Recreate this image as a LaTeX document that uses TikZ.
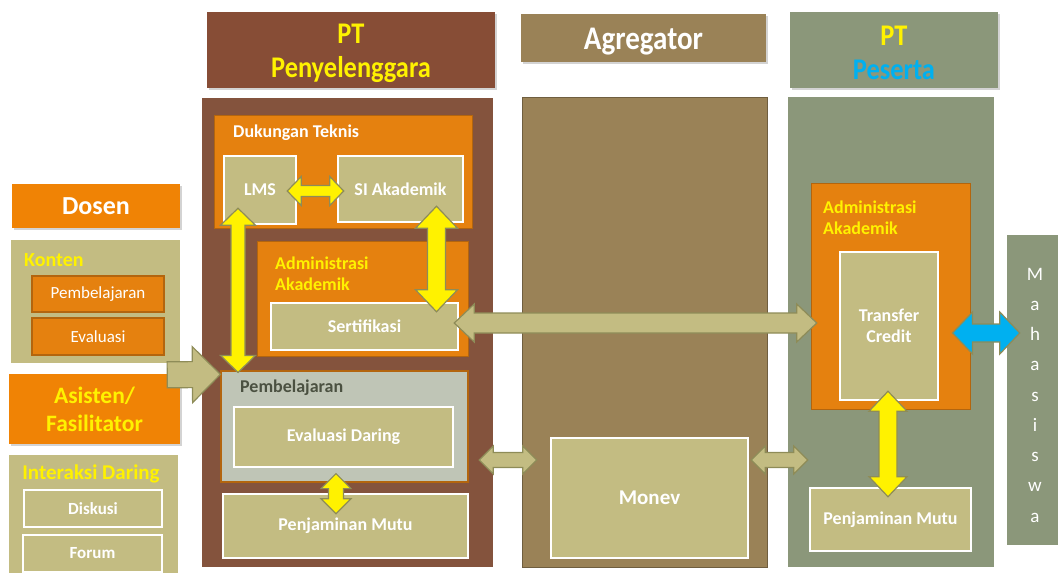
\documentclass[tikz,border=0pt]{standalone}
\usepackage{fontspec}
\setmainfont{Carlito}
\newfontfamily\condfont[FakeStretch=0.88]{Carlito}
\usepackage{tikz}
\usetikzlibrary{calc,shadows}

\definecolor{headbrown}{HTML}{874D36}
\definecolor{ppbrown}{HTML}{84533D}
\definecolor{agbrown}{HTML}{9A8257}
\definecolor{agedge}{HTML}{6F5E3F}
\definecolor{psgreen}{HTML}{8B977A}
\definecolor{boxtan}{HTML}{C3BC82}
\definecolor{boxorange}{HTML}{E5810F}
\definecolor{boxedge}{HTML}{B3650E}
\definecolor{headorange}{HTML}{F08305}
\definecolor{pembgrey}{HTML}{BFC5B6}
\definecolor{arrowedge}{HTML}{8E8C58}
\definecolor{skyblue}{HTML}{00B0F0}
\definecolor{titlegrey}{HTML}{4B5141}

\newcommand\lblfont{\bfseries\fontsize{18}{21}\selectfont}

% block arrows between two points
\newcommand\dblarrow[6][]{%
  \path (#2) coordinate (da1) (#3) coordinate (da2);
  \path ($(da1)!#6!(da2)$) coordinate (da3) ($(da2)!#6!(da1)$) coordinate (da4);
  \draw[blockarrow,#1] (da1) -- ($(da3)!#5!90:(da2)$) -- ($(da3)!#4!90:(da2)$)
    -- ($(da4)!#4!-90:(da1)$) -- ($(da4)!#5!-90:(da1)$) -- (da2)
    -- ($(da4)!#5!90:(da1)$) -- ($(da4)!#4!90:(da1)$)
    -- ($(da3)!#4!-90:(da2)$) -- ($(da3)!#5!-90:(da2)$) -- cycle;
}
\newcommand\onearrow[6][]{%
  \path (#2) coordinate (da1) (#3) coordinate (da2);
  \path ($(da2)!#6!(da1)$) coordinate (da4);
  \draw[blockarrow,#1] ($(da1)!#4!90:(da2)$) -- ($(da4)!#4!-90:(da1)$)
    -- ($(da4)!#5!-90:(da1)$) -- (da2) -- ($(da4)!#5!90:(da1)$)
    -- ($(da4)!#4!90:(da1)$) -- ($(da1)!#4!-90:(da2)$) -- cycle;
}

\tikzset{
  panel/.style={draw=none, inner sep=0pt},
  headbox/.style={inner sep=0pt,
    drop shadow={shadow xshift=2pt, shadow yshift=-2pt, opacity=.35}},
  headtext/.style={inner sep=0pt, align=center, font=\condfont\bfseries\fontsize{30}{33}\selectfont},
  bigorange/.style={fill=headorange, inner sep=0pt,
    drop shadow={shadow xshift=2pt, shadow yshift=-2pt, opacity=.35}},
  orbox/.style={fill=boxorange, draw=boxedge, line width=1pt, inner sep=0pt},
  smallor/.style={fill=boxorange, draw=boxedge, line width=1.5pt, inner sep=0pt,
    text=white, font=\fontsize{17}{20}\selectfont},
  tanbox/.style={fill=boxtan, draw=white, line width=2.5pt, inner sep=0pt,
    text=white, font=\lblfont},
  pembox/.style={fill=pembgrey, draw=boxedge, line width=1.2pt, inner sep=0pt},
  wtitle/.style={inner sep=0pt, text=white, font=\lblfont},
  ytitle/.style={inner sep=0pt, text=yellow, align=left, font=\lblfont},
  blockarrow/.style={draw=arrowedge, line width=1.2pt, line join=miter}
}

\begin{document}
\begin{tikzpicture}[x=1pt, y=-1pt]
    \useasboundingbox (0,0) rectangle (1058,573);

    % headers
    \node[headbox, fill=headbrown, minimum width=288pt, minimum height=76pt] (ppHead) at (351,50) {};
    \node[headtext, text=yellow] (ppHeadT) at ([yshift=-3pt]ppHead.center) {PT\\[1pt]Penyelenggara};
    \node[headbox, fill=agbrown, minimum width=245pt, minimum height=48pt] (agHead) at (643.5,38) {};
    \node[headtext, text=white, font=\condfont\bfseries\fontsize{33}{36}\selectfont] (agHeadT) at ([yshift=-3.5pt]agHead.center) {Agregator};
    \node[headbox, fill=psgreen, minimum width=208pt, minimum height=76pt] (psHead) at (894,50) {};
    \node[headtext, text=yellow] (psHeadT) at ([yshift=-3pt]psHead.center) {PT\\[1pt]\textcolor{skyblue}{Peserta}};

    % panels
    \node[panel, fill=ppbrown, minimum width=291pt, minimum height=469pt] (ppPanel) at (347.5,332.5) {};
    \node[panel, fill=agbrown, draw=agedge, line width=1pt, minimum width=245pt, minimum height=470pt] (agPanel) at (644.5,332) {};
    \node[panel, fill=psgreen, minimum width=206pt, minimum height=470pt] (psPanel) at (891,332) {};
    \node[panel, fill=psgreen, minimum width=56pt, minimum height=310pt] (mhsPanel) at (1035,390) {};
    \node[inner sep=0pt, text=white, align=center, font=\fontsize{19}{30.25}\selectfont] (mhs) at (1035,395) {M\\a\\h\\a\\s\\i\\s\\w\\a};

    % left column
    \node[bigorange, minimum width=168pt, minimum height=44pt, text=white, font=\bfseries\fontsize{26}{30}\selectfont] (dosen) at (96,206) {Dosen};
    \node[panel, fill=boxtan, minimum width=169pt, minimum height=123pt] (konten) at (95.5,301.5) {};
    \node[ytitle, font=\bfseries\fontsize{20}{24}\selectfont, anchor=base west] (kontenT) at (24,266) {Konten};
    \node[smallor, minimum width=132pt, minimum height=36pt] (kPemb) at (98,294) {Pembelajaran};
    \node[smallor, minimum width=132pt, minimum height=37pt] (kEval) at (98,336.5) {Evaluasi};
    \node[bigorange, minimum width=171pt, minimum height=70pt, text=yellow, align=center, font=\bfseries\fontsize{23.5}{28}\selectfont] (asisten) at (94.5,409) {Asisten/\\Fasilitator};
    \node[panel, fill=boxtan, minimum width=169pt, minimum height=125pt] (interaksi) at (93.5,517.5) {};
    \node[ytitle, font=\bfseries\fontsize{21}{24}\selectfont] (interaksiT) at (91,474) {Interaksi Daring};
    \node[tanbox, minimum width=138pt, minimum height=37pt, font=\bfseries\fontsize{17}{20}\selectfont] (diskusi) at (93,508.5) {Diskusi};
    \node[tanbox, minimum width=139pt, minimum height=37pt, font=\bfseries\fontsize{17}{20}\selectfont] (forum) at (92.5,553.5) {Forum};

    % PT Penyelenggara
    \node[orbox, minimum width=258pt, minimum height=113pt] (dukungan) at (343,171.5) {};
    \node[wtitle, anchor=base west] (dukunganT) at (233,137) {Dukungan Teknis};
    \node[tanbox, minimum width=72pt, minimum height=68pt] (lms) at (260,190) {LMS};
    \node[tanbox, minimum width=125pt, minimum height=66pt] (siak) at (400.5,189) {SI Akademik};
    \node[orbox, minimum width=211pt, minimum height=115pt] (adm1) at (362.5,298.5) {};
    \node[ytitle, anchor=north west] (adm1T) at (275,257) {Administrasi\\Akademik};
    \node[tanbox, minimum width=187pt, minimum height=47pt] (sert) at (364.5,326.5) {Sertifikasi};
    \node[pembox, minimum width=247pt, minimum height=111pt] (pembl) at (344.5,426.5) {};
    \node[wtitle, text=titlegrey, anchor=base west] (pemblT) at (240,392) {Pembelajaran};
    \node[tanbox, minimum width=219pt, minimum height=60pt] (evDaring) at (343.5,437) {Evaluasi Daring};
    \node[tanbox, minimum width=245pt, minimum height=64pt] (mutuPP) at (345.5,526) {Penjaminan Mutu};

    % Agregator
    \node[tanbox, minimum width=197pt, minimum height=120pt, font=\bfseries\fontsize{21}{24}\selectfont] (monev) at (649.5,498) {Monev};

    % PT Peserta
    \node[orbox, minimum width=159pt, minimum height=226pt] (adm2) at (890.5,296) {};
    \node[ytitle, anchor=north west] (adm2T) at (823,201) {Administrasi\\Akademik};
    \node[tanbox, minimum width=98pt, minimum height=148pt, align=center] (transfer) at (889,326) {Transfer\\Credit};
    \node[tanbox, minimum width=161pt, minimum height=63pt] (mutuPS) at (890.5,519.5) {Penjaminan Mutu};

    % arrows
    \onearrow[fill=boxtan]{[xshift=-13pt,yshift=-1pt]asisten.north east}{[yshift=-4pt]pembl.north west}{13pt}{28pt}{28pt}
    \dblarrow[fill=yellow]{[xshift=-10pt,yshift=-1pt]lms.east}{[xshift=7pt,yshift=-2pt]siak.west}{5.5pt}{14.5pt}{14pt}
    \dblarrow[fill=yellow]{[xshift=-22pt,yshift=17pt]lms.south}{[xshift=-106.5pt,yshift=-2pt]pembl.north}{7pt}{17.5pt}{17pt}
    \dblarrow[fill=yellow]{[xshift=36pt,yshift=17pt]siak.south}{[xshift=72pt,yshift=-10pt]sert.north}{9pt}{21pt}{22pt}
    \dblarrow[fill=yellow]{[xshift=-8.5pt,yshift=9pt]pembl.south}{[xshift=-9.5pt,yshift=-21pt]mutuPP.north}{7.5pt}{15pt}{15pt}
    \dblarrow[fill=boxtan]{[xshift=-5pt,yshift=3.5pt]sert.east}{[xshift=-22pt,yshift=3pt]transfer.west}{10pt}{19pt}{20pt}
    \dblarrow[fill=boxtan]{[xshift=-14pt,yshift=-127.5pt]ppPanel.east}{[xshift=-13pt,yshift=38pt]monev.west}{7.5pt}{14pt}{14pt}
    \dblarrow[fill=boxtan]{[xshift=2pt,yshift=38pt]monev.east}{[xshift=20pt,yshift=-128pt]psPanel.west}{7.5pt}{14pt}{14pt}
    \dblarrow[fill=skyblue]{[xshift=-18pt,yshift=-37pt]adm2.east}{[xshift=13pt,yshift=57pt]mhsPanel.west}{9pt}{21pt}{20pt}
    \dblarrow[fill=yellow]{[xshift=-1pt,yshift=10pt]transfer.south}{[xshift=-2.5pt,yshift=-10pt]mutuPS.north}{9pt}{19pt}{20pt}
\end{tikzpicture}
\end{document}
